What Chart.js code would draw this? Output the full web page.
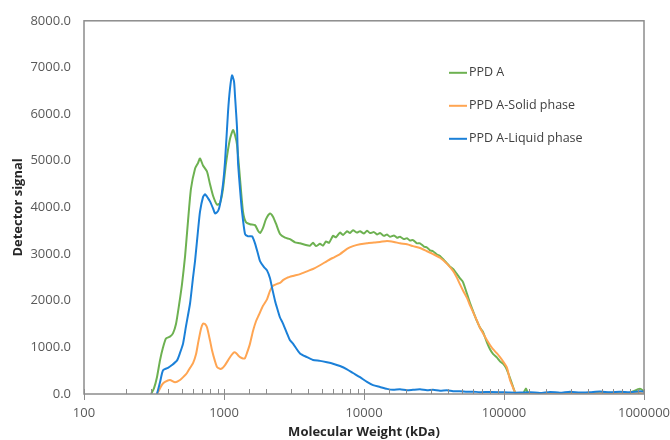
<!DOCTYPE html>
<html>
<head>
<meta charset="utf-8">
<script src="https://cdn.jsdelivr.net/npm/chart.js@4/dist/chart.umd.min.js"></script>
<style>
  html, body { margin: 0; padding: 0; background: #ffffff; }
  #wrap { width: 670px; height: 440px; position: relative; }
</style>
</head>
<body>
<div id="wrap"><canvas id="c" width="670" height="440"></canvas></div>
<script>
// ---- Data (molecular weight in kDa, detector signal) ----
const seriesNames = ['PPD A', 'PPD A-Solid phase', 'PPD A-Liquid phase'];
const seriesColors = ['#6DB151', '#FFA552', '#1B80D8'];

const yTickValues = [0, 1000, 2000, 3000, 4000, 5000, 6000, 7000, 8000];
const xTickLabels = [100, 1000, 10000, 100000, 1000000];

const mwA = [301, 316, 332, 349, 367, 385, 411, 432, 454, 477, 501, 527, 553, 581, 621, 652, 674, 708, 756, 794, 835, 891, 936, 984, 1034, 1104, 1160, 1198, 1239, 1301, 1367, 1436, 1534, 1665, 1750, 1808, 1899, 1995, 2131, 2239, 2352, 2512, 2728, 2960, 3215, 3490, 3790,
  4115, 4323, 4541, 4851, 5096, 5354, 5623, 6005, 6310, 6738, 7079, 7560, 7943, 8345, 8913, 9363, 10000, 10506, 11040, 11790, 12390, 13010, 13900, 14600, 15340, 16380, 17210, 18080, 19310, 20280, 21310, 22390, 23910, 25120, 26830, 28180, 29610, 31120, 33220, 34910, 37280, 39170, 41150, 43240, 46160, 48510, 50940, 54400, 57170, 60050, 64140, 67400, 70790, 75600, 79430, 83450, 89130, 93630, 98370, 103350, 108600, 114100, 119800, 125900, 136700, 143600, 148400, 166500, 213100, 251200, 296100, 349100, 411500, 485100, 571700, 673800, 794300, 936300, 1000000];
const sigA = [0, 120, 360, 720, 1000, 1190, 1230, 1300, 1500, 1900, 2350, 2950, 3700, 4400, 4830, 4950, 5050, 4900, 4770, 4500, 4250, 4060, 4090, 4400, 4950, 5470, 5660, 5550, 5340, 4620, 3910, 3680, 3640, 3620, 3500, 3450, 3560, 3750, 3870, 3800, 3650, 3430, 3350, 3320, 3250, 3230, 3200,
  3180, 3240, 3170, 3220, 3180, 3270, 3240, 3390, 3360, 3460, 3410, 3490, 3450, 3510, 3460, 3490, 3440, 3500, 3450, 3470, 3420, 3450, 3390, 3420, 3370, 3400, 3350, 3370, 3320, 3340, 3290, 3300, 3230, 3230, 3160, 3140, 3080, 3060, 2990, 2960, 2870, 2800, 2730, 2680, 2570, 2480, 2400, 2150, 1950, 1780, 1560, 1420, 1330, 1100, 960, 860, 780, 700, 650, 560, 400, 220, 40, 0, 10, 120, 20, 0, 20, 10, 25, 10, 20, 15, 25, 10, 30, 110, 60];

const mwS = [332, 338, 361, 379, 411, 447, 485, 518, 544, 572, 601, 631, 652, 685, 708, 731, 756, 794, 821, 863, 891, 936, 968, 1017, 1068, 1122, 1179, 1218, 1259, 1301, 1367, 1413, 1460, 1534, 1611, 1693, 1778, 1899, 2028, 2131, 2239, 2391, 2512, 2639, 2818, 3111, 3490, 3917, 4323, 4851, 5441, 6005, 6738, 7560, 8345, 9363, 10506, 11790, 13010, 14600, 16380, 18080, 20280, 22390, 25120, 28180, 31120, 34910, 39170, 43240, 46160, 48510, 50940, 54400, 57170, 60050, 64140, 67400, 70790, 75600, 79430, 83450, 89130, 93630, 98370, 105050, 110400, 115900, 119800, 125900, 130100, 153400, 180800, 213100, 251200, 296100, 349100, 411500, 485100, 571700, 673800, 794300, 936300, 1000000];
const sigS = [0, 40, 200, 260, 300, 250, 300, 380, 450, 560, 660, 850, 1080, 1400, 1510, 1500, 1430, 1150, 940, 700, 580, 540, 550, 620, 720, 820, 890, 880, 830, 790, 760, 770, 880, 1080, 1350, 1560, 1700, 1890, 2030, 2210, 2320, 2360, 2380, 2440, 2490, 2530, 2570, 2630, 2680, 2760, 2850, 2920, 3000, 3110, 3170, 3210, 3230, 3250, 3260, 3280, 3260, 3230, 3210, 3170, 3130, 3060, 3000, 2920, 2790, 2640, 2490, 2350, 2220, 2060, 1900, 1760, 1570, 1420, 1300, 1150, 1050, 960, 870, 790, 700, 560, 300, 140, 40, 0, 10, 0, 15, 5, 10, 0, 10, 5, 15, 10, 5, 10, 20, 10];

const mwL = [332, 349, 367, 398, 425, 462, 485, 510, 535, 572, 601, 621, 652, 674, 708, 731, 768, 794, 835, 863, 906, 936, 984, 1017, 1068, 1104, 1141, 1179, 1198, 1239, 1259, 1301, 1345, 1413, 1484, 1585, 1665, 1750, 1808, 1931, 2028, 2131, 2203, 2314, 2391, 2512, 2639, 2818, 2960, 3111, 3490, 3917, 4323, 4851, 5441, 6005, 6738, 7560, 8345, 9363, 10506, 11600, 13010, 14600, 16110, 18080, 20280, 22390, 25120, 28180, 31120, 34910, 39170, 43240, 48510, 54400, 60050, 67400, 79430, 93630, 110400, 130100, 153400, 180800, 213100, 251200, 296100, 349100, 411500, 485100, 571700, 673800, 794300, 936300, 1000000];
const sigL = [0, 250, 510, 560, 620, 720, 880, 1080, 1450, 1940, 2500, 2850, 3500, 3910, 4220, 4280, 4200, 4130, 3980, 3870, 3920, 4060, 4500, 4980, 6040, 6550, 6830, 6700, 6400, 5700, 4980, 4400, 3910, 3430, 3380, 3380, 3230, 3000, 2850, 2720, 2650, 2480, 2280, 2000, 1850, 1640, 1510, 1300, 1150, 1080, 870, 790, 730, 710, 680, 650, 600, 530, 450, 360, 260, 190, 150, 110, 90, 100, 80, 90, 100, 80, 90, 70, 80, 60, 60, 50, 50, 40, 45, 40, 30, 30, 40, 20, 45, 25, 50, 30, 40, 55, 35, 50, 40, 60, 50];

function toPoints(xs, ys) { return xs.map((x, i) => ({ x: x, y: ys[i] })); }

const datasets = [
  { label: seriesNames[0], data: toPoints(mwA, sigA) },
  { label: seriesNames[1], data: toPoints(mwS, sigS) },
  { label: seriesNames[2], data: toPoints(mwL, sigL) }
].map((d, i) => Object.assign(d, {
  borderColor: seriesColors[i],
  backgroundColor: seriesColors[i],
  borderWidth: 2,
  pointRadius: 0,
  tension: 0.2,
  fill: false
}));
// draw order: green behind, orange, blue on top
datasets[0].order = 3; datasets[1].order = 2; datasets[2].order = 1;

const FONT = "'Open Sans', 'DejaVu Sans', sans-serif";
const AXIS_COLOR = '#8C8C8C';

const framePlugin = {
  id: 'frameAndTicks',
  afterDraw(chart) {
    const ctx = chart.ctx;
    const a = chart.chartArea;
    const xs = chart.scales.x;
    ctx.save();
    ctx.strokeStyle = AXIS_COLOR;
    ctx.lineWidth = 1.5;
    ctx.strokeRect(a.left, a.top, a.right - a.left, a.bottom - a.top);
    ctx.lineWidth = 1;
    xs.ticks.forEach(t => {
      const px = Math.round(xs.getPixelForValue(t.value)) + 0.5;
      const major = xTickLabels.includes(t.value);
      ctx.beginPath();
      ctx.moveTo(px, a.bottom - 5);
      ctx.lineTo(px, major ? a.bottom + 6 : a.bottom);
      ctx.stroke();
    });
    // legend inside the plot
    const lx = a.left + 365, ly = a.top + 52, gap = 33;
    ctx.font = "12.5px " + FONT;
    ctx.textBaseline = 'middle';
    ctx.textAlign = 'left';
    chart.data.datasets.forEach((d, i) => {
      const y = ly + i * gap;
      ctx.strokeStyle = d.borderColor;
      ctx.lineWidth = 2;
      ctx.beginPath();
      ctx.moveTo(lx, y);
      ctx.lineTo(lx + 18, y);
      ctx.stroke();
      ctx.fillStyle = '#404040';
      ctx.fillText(d.label, lx + 20, y);
    });
    ctx.restore();
  }
};

new Chart(document.getElementById('c'), {
  type: 'line',
  data: { datasets: datasets },
  options: {
    responsive: false,
    animation: false,
    devicePixelRatio: 1,
    layout: { padding: { left: 0, right: 0, top: 18, bottom: 0 } },
    plugins: { legend: { display: false }, tooltip: { enabled: false } },
    scales: {
      x: {
        type: 'logarithmic',
        min: 100,
        max: 1000000,
        afterFit(s) { s.height = 46; s.paddingRight = 26; },
        grid: { display: false, drawTicks: false },
        border: { display: false },
        ticks: {
          autoSkip: false,
          maxRotation: 0,
          padding: 11,
          color: '#595959',
          font: { family: FONT, size: 13 },
          callback(v) { return xTickLabels.includes(v) ? String(v) : ''; }
        },
        title: {
          display: true,
          text: 'Molecular Weight (kDa)',
          color: '#262626',
          font: { family: FONT, size: 13, weight: 'bold' },
          padding: { top: 0, bottom: 0 }
        }
      },
      y: {
        type: 'linear',
        min: 0,
        max: 8000,
        afterFit(s) { s.width = 84; },
        afterBuildTicks(s) { s.ticks = yTickValues.map(v => ({ value: v })); },
        grid: { display: false, drawTicks: false },
        border: { display: false },
        ticks: {
          padding: 13,
          color: '#595959',
          font: { family: FONT, size: 13 },
          callback(v) { return Number(v).toFixed(1); }
        },
        title: {
          display: true,
          text: 'Detector signal',
          color: '#262626',
          font: { family: FONT, size: 13, weight: 'bold' },
          padding: { top: 10, bottom: 0 }
        }
      }
    }
  },
  plugins: [framePlugin]
});
</script>
</body>
</html>
